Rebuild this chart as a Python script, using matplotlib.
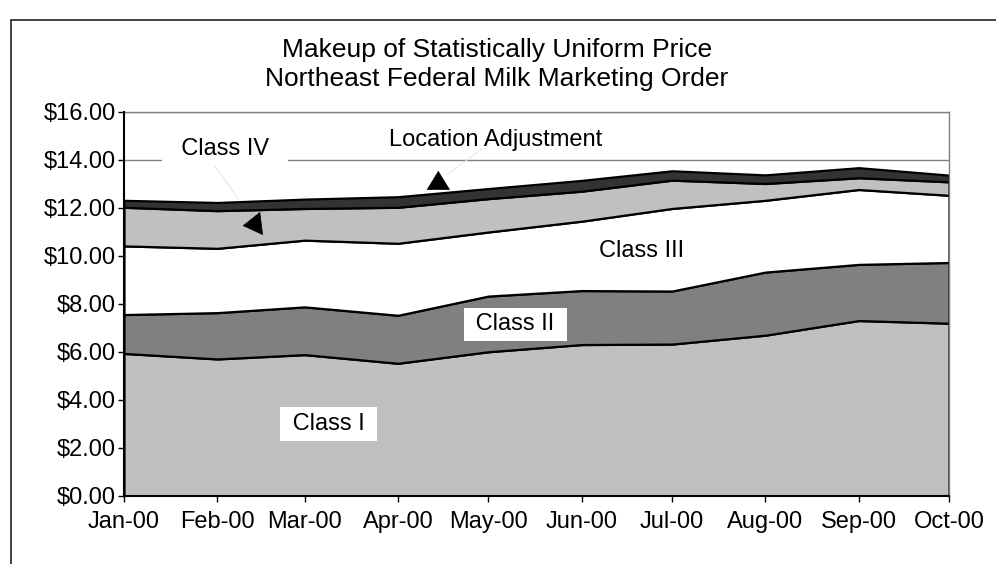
import matplotlib
matplotlib.use('Agg')
import matplotlib.pyplot as plt
import matplotlib.dates as mdates
from matplotlib.patches import Rectangle
from matplotlib.ticker import FuncFormatter
from datetime import datetime, timedelta

plt.rcParams['font.family'] = ['Liberation Sans', 'DejaVu Sans']

# ---- data ----
months = ['2000-01-01', '2000-02-01', '2000-03-01', '2000-04-01', '2000-05-01',
          '2000-06-01', '2000-07-01', '2000-08-01', '2000-09-01', '2000-10-01']
month_labels = ['Jan-00', 'Feb-00', 'Mar-00', 'Apr-00', 'May-00',
                'Jun-00', 'Jul-00', 'Aug-00', 'Sep-00', 'Oct-00']
class_i = [5.94, 5.71, 5.89, 5.53, 6.01, 6.31, 6.33, 6.70, 7.31, 7.20]
class_ii = [1.62, 1.93, 1.99, 2.00, 2.32, 2.25, 2.21, 2.63, 2.34, 2.53]
class_iii = [2.86, 2.68, 2.78, 3.00, 2.67, 2.89, 3.44, 2.99, 3.12, 2.80]
class_iv = [1.61, 1.57, 1.32, 1.50, 1.39, 1.25, 1.18, 0.70, 0.49, 0.56]
loc_adj = [0.29, 0.34, 0.39, 0.44, 0.42, 0.45, 0.39, 0.36, 0.42, 0.28]
y_ticks = [0, 2, 4, 6, 8, 10, 12, 14, 16]

W, H = 996, 564
fig = plt.figure(figsize=(W / 100, H / 100), dpi=100)

def fx(px):
    return px / W

def fy(py):
    return 1 - py / H

left, right, top, bottom = 124, 949, 112, 496
ax = fig.add_axes([fx(left), fy(bottom), (right - left) / W, (bottom - top) / H])

dates = [datetime.strptime(m, '%Y-%m-%d') for m in months]
x = mdates.date2num(dates)

ax.stackplot(x, class_i, class_ii, class_iii, class_iv, loc_adj,
             colors=['#c0c0c0', '#808080', '#ffffff', '#c0c0c0', '#333333'],
             edgecolor='black', linewidth=1.6, zorder=2)

ax.set_xlim(x[0], x[-1])
ax.set_ylim(0, 16)
ax.set_yticks(y_ticks)
ax.yaxis.set_major_formatter(FuncFormatter(lambda v, p: '${:.2f}'.format(v)))
ax.set_xticks(x)
ax.set_xticklabels(month_labels)

ax.set_axisbelow(True)
ax.grid(axis='y', color='#808080', linewidth=1.0, zorder=0)
ax.grid(axis='x', visible=False)

for s in ['top', 'right']:
    ax.spines[s].set_color('#808080')
    ax.spines[s].set_linewidth(1.0)
for s in ['left', 'bottom']:
    ax.spines[s].set_color('black')
    ax.spines[s].set_linewidth(1.5)
    ax.spines[s].set_zorder(3)

ax.tick_params(axis='both', direction='out', length=4, width=1.0,
               labelsize=17, colors='black')
ax.tick_params(axis='y', pad=2)
ax.tick_params(axis='x', pad=7)

d0 = dates[0]

def dday(days):
    return mdates.date2num(d0 + timedelta(days=days))

lab_kw = dict(fontsize=17, ha='center', va='center', zorder=5)
box = dict(facecolor='white', edgecolor='none', pad=4)

ax.text(dday(33.5), 14.45, '  Class IV  ', bbox=box, **lab_kw)
ax.text(dday(123.5), 14.85, 'Location Adjustment', **lab_kw)
ax.text(dday(172), 10.2, 'Class III', **lab_kw)
ax.text(dday(130), 7.15, ' Class II ', bbox=box, **lab_kw)
ax.text(dday(68), 3.0, ' Class I ', bbox=box, **lab_kw)

# faint leader lines
ax.plot([dday(29.6), dday(37.9)], [13.84, 12.39], color='#e8e8e8', lw=0.8, zorder=4)
ax.plot([dday(118.9), dday(107.6)], [14.46, 13.42], color='#e8e8e8', lw=0.8, zorder=4)

arrow = dict(arrowstyle='-|>,head_length=0.65,head_width=0.4', color='black',
             shrinkA=0, shrinkB=0, mutation_scale=20, lw=0.5)
ax.annotate('', xy=(dday(39.4), 11.26), xytext=(dday(45.3), 11.35),
            arrowprops=arrow, zorder=6)
ax.annotate('', xy=(dday(104.4), 13.55), xytext=(dday(104.4), 12.82),
            arrowprops=arrow, zorder=6)

# title
fig.text(fx(497), fy(57), 'Makeup of Statistically Uniform Price',
         fontsize=19, ha='center', va='baseline')
fig.text(fx(497), fy(86), 'Northeast Federal Milk Marketing Order',
         fontsize=19, ha='center', va='baseline')

# outer frame
fig.add_artist(Rectangle((fx(11), -0.1), 2, fy(20) + 0.1, transform=fig.transFigure,
                         fill=False, edgecolor='#333333', linewidth=1.3))

fig.savefig('out.png', dpi=100)
